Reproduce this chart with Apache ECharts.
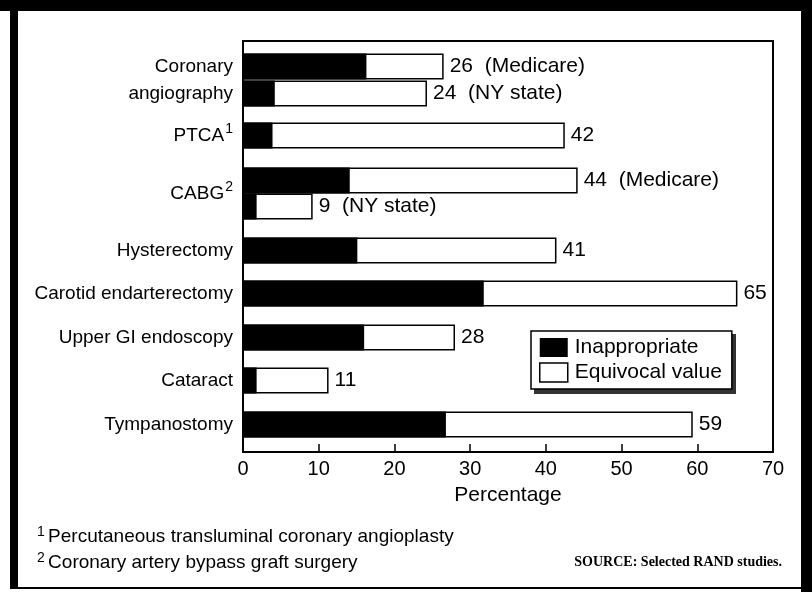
<!DOCTYPE html>
<html>
<head>
<meta charset="utf-8">
<script src="https://cdn.jsdelivr.net/npm/echarts@6/dist/echarts.min.js"></script>
<style>
html,body{margin:0;padding:0;background:#fff;}
#chart{width:812px;height:592px;}
</style>
</head>
<body>
<div id="chart"></div>
<script>
// ---- data ----
const groupNames = ['Coronary\nangiography', 'PTCA', 'CABG', 'Hysterectomy', 'Carotid endarterectomy', 'Upper GI endoscopy', 'Cataract', 'Tympanostomy'];
const groupNotes = ['', '1', '2', '', '', '', '', ''];
const barGroup = [0, 0, 1, 2, 2, 3, 4, 5, 6, 7];
const inappropriate = [16.3, 4.2, 3.9, 14.1, 1.8, 15.1, 31.8, 16.0, 1.8, 26.8];
const totals = [26.5, 24.3, 42.5, 44.2, 9.2, 41.4, 65.3, 28.0, 11.3, 59.4];
const printedTotals = [26, 24, 42, 44, 9, 41, 65, 28, 11, 59];
const studySource = ['Medicare', 'NY state', '', 'Medicare', 'NY state', '', '', '', '', ''];
const xTicks = [0, 10, 20, 30, 40, 50, 60, 70];
const footnotes = ['Percutaneous transluminal coronary angioplasty', 'Coronary artery bypass graft surgery'];
const sourceText = 'SOURCE: Selected RAND studies.';

// ---- layout (pixel slots on a fine category axis) ----
const SLOTS = 411;
const barSlot = [25, 52, 94, 139, 165, 209, 252, 296, 339, 383];

const slotNames = [];
for (let i = 0; i < SLOTS; i++) slotNames.push('s' + i);
const slotLabel = {};
groupNames.forEach((g, gi) => {
  const idx = [];
  barGroup.forEach((b, bi) => { if (b === gi) idx.push(barSlot[bi]); });
  const c = Math.round((Math.min(...idx) + Math.max(...idx)) / 2);
  slotLabel['s' + c] = groupNotes[gi] ? '{a|' + g + '}{s|' + groupNotes[gi] + '}' : '{a|' + g.split('\n').join('}\n{a|') + '}';
});
const totalData = new Array(SLOTS).fill('-');
const inapData = new Array(SLOTS).fill('-');
const slotBar = {};
barSlot.forEach((s, bi) => {
  totalData[s] = totals[bi];
  inapData[s] = inappropriate[bi];
  slotBar[s] = bi;
});

const FONT = '"Liberation Sans", Arial, Helvetica, sans-serif';
const FS = 19;

const chart = echarts.init(document.getElementById('chart'), null, {renderer: 'canvas'});
chart.setOption({
  backgroundColor: '#fff',
  animation: false,
  textStyle: {fontFamily: FONT, color: '#000'},
  grid: {left: 243, right: 39, top: 41, bottom: 140, show: true, borderColor: '#000', borderWidth: 2, containLabel: false},
  xAxis: {
    type: 'value', min: xTicks[0], max: xTicks[xTicks.length - 1], interval: 10,
    name: 'Percentage', nameLocation: 'middle', nameGap: 33,
    nameTextStyle: {fontFamily: FONT, fontSize: 21, color: '#000'},
    axisLine: {show: true, lineStyle: {color: '#000', width: 2}},
    axisTick: {show: true, inside: true, length: 8, lineStyle: {color: '#000', width: 1.5}},
    axisLabel: {fontFamily: FONT, fontSize: 20, color: '#000', margin: 7},
    splitLine: {show: false}
  },
  yAxis: {
    type: 'category', inverse: true, data: slotNames,
    axisLine: {show: true, lineStyle: {color: '#000', width: 2}},
    axisTick: {show: false},
    splitLine: {show: false},
    axisLabel: {
      interval: 0, margin: 10, align: 'right',
      formatter: v => slotLabel[v] || '',
      rich: {
        a: {fontFamily: FONT, fontSize: FS, color: '#000', lineHeight: 27},
        s: {fontFamily: FONT, fontSize: 14, color: '#000', verticalAlign: 'top', lineHeight: 27, padding: [0, 0, 8, 1]}
      }
    }
  },
  legend: {
    orient: 'vertical', left: 531, top: 331,
    padding: [6, 10, 6, 8], itemGap: 4, itemWidth: 28, itemHeight: 19,
    backgroundColor: '#fff', borderColor: '#000', borderWidth: 1.5, borderRadius: 0,
    textStyle: {fontFamily: FONT, fontSize: 21, color: '#000', padding: [0, 0, 0, 2]},
    icon: 'rect',
    data: [
      {name: 'Inappropriate', itemStyle: {color: '#000'}},
      {name: 'Equivocal value', itemStyle: {color: '#fff', borderColor: '#000', borderWidth: 1.5}}
    ]
  },
  series: [
    {
      name: 'Equivocal value', type: 'bar', barWidth: 26, barGap: '-100%',
      data: totalData,
      itemStyle: {color: '#fff', borderColor: '#000', borderWidth: 1.5},
      label: {
        show: true, position: 'right', distance: 6,
        fontFamily: FONT, fontSize: 21, color: '#000',
        formatter: p => {
          const bi = slotBar[p.dataIndex];
          return studySource[bi] ? printedTotals[bi] + '  (' + studySource[bi] + ')' : String(printedTotals[bi]);
        }
      }
    },
    {
      name: 'Inappropriate', type: 'bar', barWidth: 26, barGap: '-100%',
      data: inapData,
      itemStyle: {color: '#000'}
    }
  ],
  graphic: [
    {type: 'rect', shape: {x: 0, y: 0, width: 812, height: 11}, style: {fill: '#000'}, silent: true},
    {type: 'rect', shape: {x: 10, y: 0, width: 8, height: 588}, style: {fill: '#000'}, silent: true},
    {type: 'rect', shape: {x: 801, y: 0, width: 11, height: 592}, style: {fill: '#000'}, silent: true},
    {type: 'rect', shape: {x: 10, y: 587, width: 802, height: 2}, style: {fill: '#000'}, silent: true},
    {type: 'rect', z: 3, shape: {x: 534, y: 334, width: 202, height: 60}, style: {fill: '#333'}, silent: true},
    {type: 'text', left: 37, top: 525, style: {
      text: '{s|1} {a|' + footnotes[0] + '}',
      rich: {a: {fontFamily: FONT, fontSize: 19, fill: '#000', lineHeight: 24}, s: {fontFamily: FONT, fontSize: 14, fill: '#000', verticalAlign: 'top', lineHeight: 24}}
    }},
    {type: 'text', left: 37, top: 551, style: {
      text: '{s|2} {a|' + footnotes[1] + '}',
      rich: {a: {fontFamily: FONT, fontSize: 19, fill: '#000', lineHeight: 24}, s: {fontFamily: FONT, fontSize: 14, fill: '#000', verticalAlign: 'top', lineHeight: 24}}
    }},
    {type: 'text', right: 30, top: 555, style: {
      text: sourceText, fontFamily: '"Liberation Serif", "DejaVu Serif", serif', fontWeight: 'bold', fontSize: 14, fill: '#000'
    }}
  ]
});
</script>
</body>
</html>
